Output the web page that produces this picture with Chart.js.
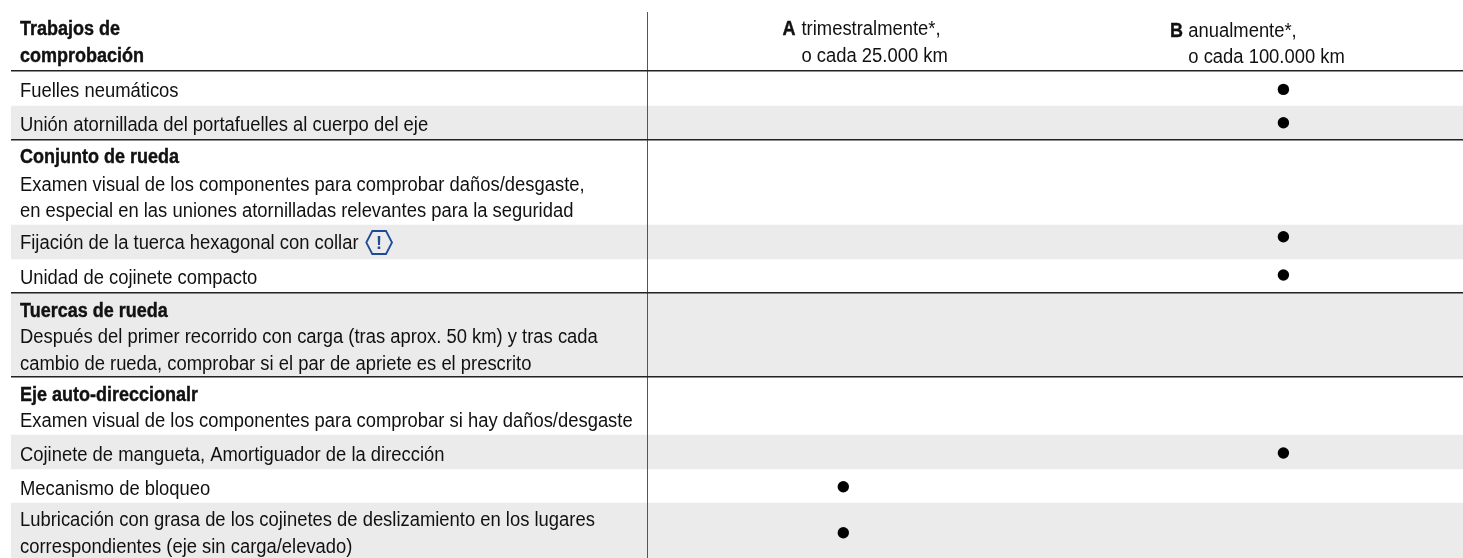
<!DOCTYPE html>
<html><head><meta charset="utf-8">
<style>html,body{margin:0;padding:0;background:#fff}canvas{display:block}</style>
<script src="https://cdn.jsdelivr.net/npm/chart.js@4/dist/chart.umd.min.js"></script>
</head><body><canvas id="c" width="1463" height="558"></canvas>
<script>
// ---- table content ----
const headerTitle = ["Trabajos de", "comprobación"];
const columns = [
  {key:"A", lines:["trimestralmente*,", "o cada 25.000 km"]},
  {key:"B", lines:["anualmente*,", "o cada 100.000 km"]}
];
const rowLines = [
  [["Fuelles neumáticos",0]],
  [["Unión atornillada del portafuelles al cuerpo del eje",0]],
  [["Conjunto de rueda",1],["Examen visual de los componentes para comprobar daños/desgaste,",0],["en especial en las uniones atornilladas relevantes para la seguridad",0]],
  [["Fijación de la tuerca hexagonal con collar",0]],
  [["Unidad de cojinete compacto",0]],
  [["Tuercas de rueda",1],["Después del primer recorrido con carga (tras aprox. 50 km) y tras cada",0],["cambio de rueda, comprobar si el par de apriete es el prescrito",0]],
  [["Eje auto-direccionalr",1],["Examen visual de los componentes para comprobar si hay daños/desgaste",0]],
  [["Cojinete de mangueta, Amortiguador de la dirección",0]],
  [["Mecanismo de bloqueo",0]],
  [["Lubricación con grasa de los cojinetes de deslizamiento en los lugares",0],["correspondientes (eje sin carga/elevado)",0]]
];
// row indices that carry a mark in each interval column
const marksA = [8, 9];
const marksB = [0, 1, 3, 4, 7];
// row indices shaded grey
const shadedRows = [1, 3, 5, 7, 9];
// row indices followed by a heavy rule
const ruleAfter = [1, 4, 5];

// ---- layout ----
const rowEdges = [71,106,140,225,259,293,377,435,469,503,558];
const baselines = [[96.7],[131],[163.3,190.9,216.7],[248.7],[284],[317,343,369.7],[401.3,427.3],[460.7],[494.7],[526.3,553]];
const markY = [89.4,122.7,null,236.7,275,null,null,453,486.7,532.7];
const colX = {A:843.3, B:1283.4};
const FONT = '"Liberation Sans",sans-serif';
const SIZE = 20, SQUEEZE_REG = 0.92, SQUEEZE_BOLD = 0.9;

const bands = shadedRows.map(r => ({x:737, y:[rowEdges[r], rowEdges[r+1]]}));
const ptsA = marksA.map(r => ({x:colX.A, y:markY[r]}));
const ptsB = marksB.map(r => ({x:colX.B, y:markY[r]}));

const textPlugin = {
  id:'tableText',
  afterDatasetsDraw(chart){
    const c = chart.ctx, X = chart.scales.x, Y = chart.scales.y;
    c.save();
    c.fillStyle = '#111';
    c.strokeStyle = '#111';
    c.textBaseline = 'alphabetic';
    const put = (s,x,y,b)=>{
      c.save();
      c.font = (b?'bold ':'')+SIZE+'px '+FONT;
      c.translate(X.getPixelForValue(x),Y.getPixelForValue(y));
      c.scale(b?SQUEEZE_BOLD:SQUEEZE_REG,1);
      c.fillText(s,0,0);
      if(b){c.lineWidth=0.4;c.strokeText(s,0,0);}
      c.restore();
    };
    put(headerTitle[0],20,35,1); put(headerTitle[1],20,61.7,1);
    put(columns[0].key,782.5,35,1); put(columns[0].lines[0],801.5,35,0); put(columns[0].lines[1],801.5,61.7,0);
    put(columns[1].key,1170,36.7,1); put(columns[1].lines[0],1188.3,36.7,0); put(columns[1].lines[1],1188.3,63.3,0);
    rowLines.forEach((ls,i)=>ls.forEach((l,j)=>put(l[0],20,baselines[i][j],l[1])));
    // warning hexagon next to row 3
    const P = (x,y)=>[X.getPixelForValue(x),Y.getPixelForValue(y)];
    const hex=[[366.3,242.5],[372.3,231],[386,231],[392,242.5],[386,254],[372.3,254]];
    c.beginPath(); hex.forEach((p,i)=>{const q=P(p[0],p[1]); i?c.lineTo(q[0],q[1]):c.moveTo(q[0],q[1]);}); c.closePath();
    c.strokeStyle='#1e4a96'; c.lineWidth=1.8; c.stroke();
    c.fillStyle='#1e4a96'; c.font='bold 18px "Liberation Sans",sans-serif'; c.textAlign='center';
    const q=P(379,249); c.fillText('!',q[0],q[1]);
    c.restore();
  }
};

new Chart(document.getElementById('c'),{
  type:'scatter',
  data:{datasets:[
    {type:'bar',label:'shaded',data:bands,backgroundColor:'#ebebeb',barThickness:1452,grouped:false,order:3,borderWidth:0},
    {label:'A',data:ptsA,pointStyle:'circle',pointRadius:5.7,pointBackgroundColor:'#000',pointBorderWidth:0,order:1},
    {label:'B',data:ptsB,pointStyle:'circle',pointRadius:5.7,pointBackgroundColor:'#000',pointBorderWidth:0,order:1}
  ]},
  options:{
    responsive:false,animation:false,
    layout:{autoPadding:false,padding:{left:11,top:12,right:0,bottom:0}},
    plugins:{legend:{display:false},tooltip:{enabled:false}},
    scales:{
      x:{type:'linear',min:11,max:1463,offset:false,
        afterBuildTicks(s){s.ticks=[{value:647.5}]},
        ticks:{display:false},border:{display:false},
        grid:{color:'#555',lineWidth:1,drawTicks:false,offset:false,z:1}},
      y:{type:'linear',min:12,max:558,reverse:true,
        afterBuildTicks(s){s.ticks=[rowEdges[0],...ruleAfter.map(r=>rowEdges[r+1])].map(v=>({value:v}))},
        ticks:{display:false},border:{display:false},
        grid:{color:'#222',lineWidth:1.4,drawTicks:false,z:1}}
    }
  },
  plugins:[textPlugin]
});
</script></body></html>
